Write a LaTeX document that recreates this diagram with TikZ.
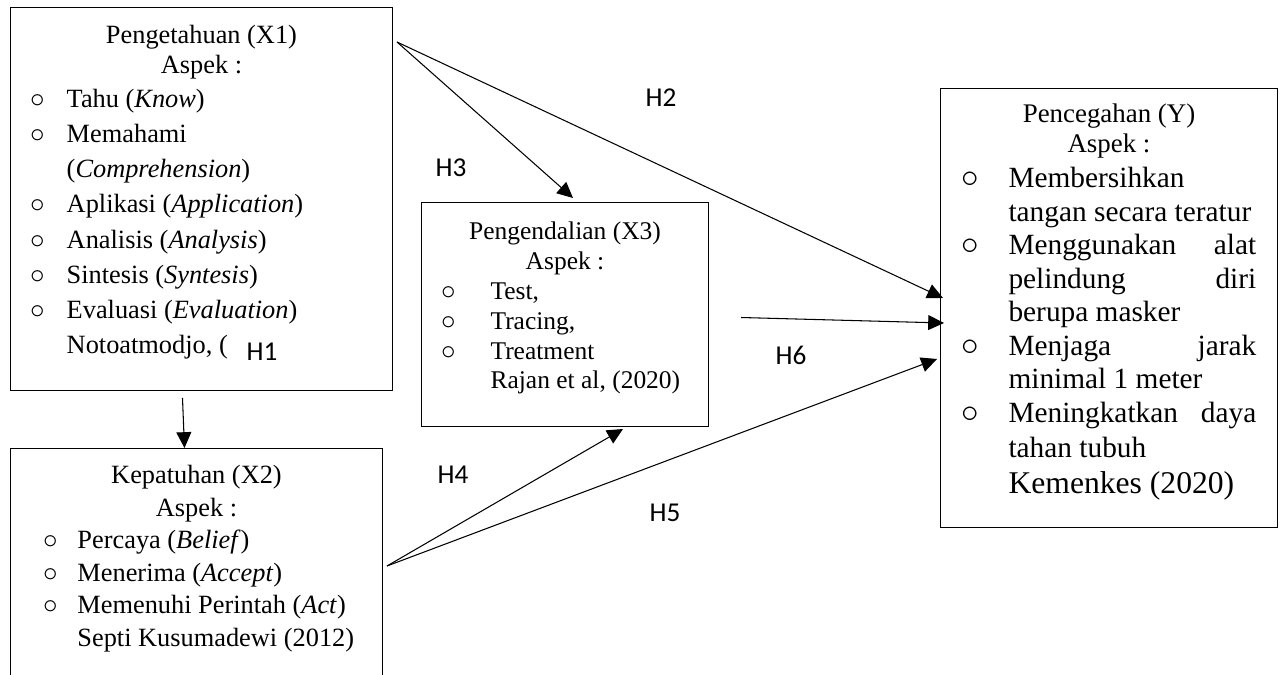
\documentclass[tikz,border=0pt]{standalone}
\usepackage{fontspec}
\setmainfont{Liberation Serif}
\newfontfamily\hfont{Carlito}
\usetikzlibrary{calc,arrows.meta}

\newlength{\bulx}
\newlength{\txtx}
\newlength{\ytw}
\setlength{\ytw}{141pt}
\newcommand{\bul}{\scalebox{1.15}{$\circ$}}
\newcommand{\itm}[1]{\par\noindent\hspace*{\bulx}\makebox[\dimexpr\txtx-\bulx\relax][l]{\bul}#1}
\newcommand{\cont}[1]{\par\noindent\hspace*{\txtx}#1}
\newcommand{\judul}[2]{{\centering #1\\#2\par}}
\newcommand{\rata}[1]{\makebox[\ytw][s]{#1}}

\tikzset{
  kotak/.style={draw, line width=0.6pt, inner sep=0pt, anchor=north west},
  hip/.style={font=\hfont\fontsize{15.5}{15.5}\selectfont, inner sep=0pt},
}

\begin{document}
\begin{tikzpicture}[x=0.02cm, y=-0.02cm, >={Triangle[length=9pt, width=8.5pt]}, line width=0.6pt]
\clip (0,0) rectangle (1283,675);

% variabel
\node[kotak] (x1) at (10,7) {\parbox[t][7.66cm][t]{7.64cm}{%
  \parskip=0pt\fontsize{15}{17}\selectfont
  \setlength{\bulx}{11.5pt}\setlength{\txtx}{32pt}%
  \vspace*{10pt}%
  \judul{Pengetahuan (X1)}{Aspek :}%
  \vspace{-0.5pt}\fontsize{15}{20}\selectfont
  \itm{Tahu (\textit{Know})}
  \itm{Memahami}
  \cont{(\textit{Comprehension})}
  \itm{Aplikasi (\textit{Application})}
  \itm{Analisis (\textit{Analysis})}
  \itm{Sintesis (\textit{Syntesis})}
  \itm{Evaluasi (\textit{Evaluation})}
  \cont{Notoatmodjo, (}\par}};

\node[kotak] (x2) at (10,448) {\parbox[t][5cm][t]{7.44cm}{%
  \parskip=0pt\fontsize{15}{18.5}\selectfont
  \setlength{\bulx}{19pt}\setlength{\txtx}{38.1pt}%
  \vspace*{9.5pt}%
  \judul{Kepatuhan (X2)}{Aspek :}%
  \itm{Percaya (\textit{Belief})}
  \itm{Menerima (\textit{Accept})}
  \itm{Memenuhi Perintah (\textit{Act})}
  \cont{Septi Kusumadewi (2012)}\par}};

\node[kotak] (x3) at (421,202) {\parbox[t][4.48cm][t]{5.74cm}{%
  \parskip=0pt\fontsize{14.5}{17}\selectfont
  \setlength{\bulx}{11.5pt}\setlength{\txtx}{39.3pt}%
  \vspace*{11pt}%
  \judul{Pengendalian (X3)}{Aspek :}%
  \itm{Test,}
  \itm{Tracing,}
  \itm{Treatment}
  \cont{Rajan et al, (2020)}\par}};

\node[kotak] (y) at (940,88) {\parbox[t][8.78cm][t]{6.74cm}{%
  \parskip=0pt\fontsize{15.3}{17}\selectfont
  \setlength{\bulx}{12pt}\setlength{\txtx}{38.7pt}%
  \vspace*{8.7pt}%
  \judul{Pencegahan (Y)}{Aspek :}%
  \vspace{1pt}\fontsize{16.7}{19.1}\selectfont
  \itm{Membersihkan}
  \cont{tangan secara teratur}
  \itm{\rata{Menggunakan alat}}
  \cont{\rata{pelindung diri}}
  \cont{berupa masker}
  \itm{\rata{Menjaga jarak}}
  \cont{minimal 1 meter}
  \itm{\rata{Meningkatkan daya}}
  \cont{tahan tubuh}
  \vspace{0.5pt}\fontsize{18}{20}\selectfont
  \cont{Kemenkes (2020)}\par}};

% titik ujung panah
\coordinate (x1out) at ($(x1.north east)+(4,35)$);
\coordinate (x1bawah) at ($(x1.south)+(-19,7)$);
\coordinate (x2in) at ($(x2.north)+(-12,0)$);
\coordinate (x2out) at ($(x2.north east)+(4,118)$);
\coordinate (x3in) at ($(x3.north)+(8,-4)$);
\coordinate (x3bawah) at ($(x3.south)+(58,2)$);
\coordinate (x3out) at ($(x3.east)+(32,3)$);
\coordinate (yin2) at ($(y.north west)+(3,210)$);
\coordinate (yin6) at ($(y.north west)+(4,235)$);
\coordinate (yin5) at ($(y.north west)+(-3,271)$);

\path[->]
  (x1bawah) edge (x2in)
  (x1out) edge (x3in)
  (x1out) edge (yin2)
  (x3out) edge (yin6)
  (x2out) edge (x3bawah)
  (x2out) edge (yin5)
  ;

% hipotesis
\node[hip] (h1) at (262,352) {H1};
\node[hip] (h2) at (661,98) {H2};
\node[hip] (h3) at (451,168) {H3};
\node[hip] (h4) at (453,475) {H4};
\node[hip] (h5) at (665,513) {H5};
\node[hip] (h6) at (791,355) {H6};
\end{tikzpicture}
\end{document}
